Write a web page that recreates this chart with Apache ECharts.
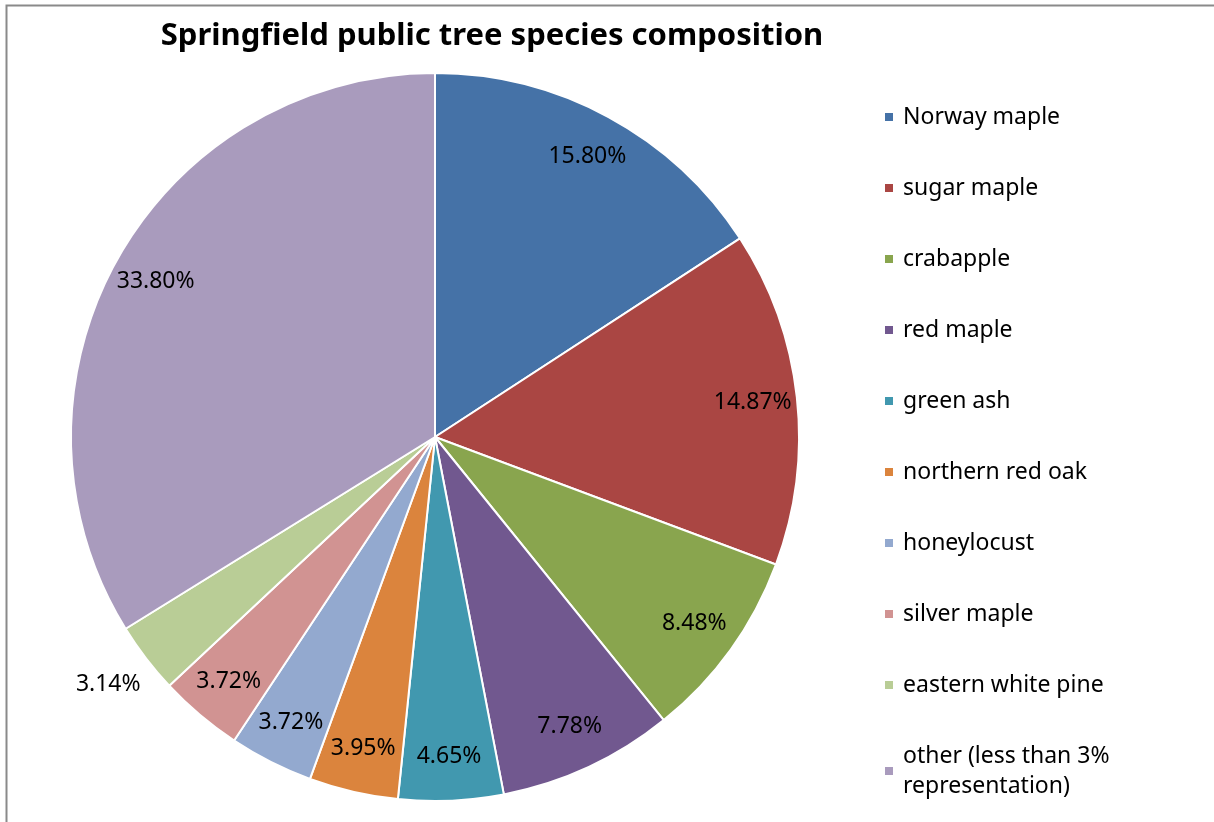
<!DOCTYPE html>
<html>
<head>
<meta charset="utf-8">
<script src="https://cdn.jsdelivr.net/npm/echarts@6/dist/echarts.min.js"></script>
<style>
  html, body { margin: 0; padding: 0; background: #fff; }
  #chart { width: 1214px; height: 822px; }
</style>
</head>
<body>
<div id="chart"></div>
<script>
// species and their share of the public tree inventory (%)
const species = [
  "Norway maple", "sugar maple", "crabapple", "red maple", "green ash",
  "northern red oak", "honeylocust", "silver maple", "eastern white pine",
  "other (less than 3% representation)"
];
const shares = [15.80, 14.87, 8.48, 7.78, 4.65, 3.95, 3.72, 3.72, 3.14, 33.80];
const colors = [
  "#4572A7", "#AA4643", "#89A54E", "#71588F", "#4198AF",
  "#DB843D", "#93A9CF", "#D19392", "#B9CD96", "#A99BBD"
];

const font = "'Noto Sans', sans-serif";
const cx = 435, cy = 437, R = 364;

const pieData = species.map((name, i) => ({
  name: name,
  value: shares[i],
  itemStyle: { color: colors[i] }
}));

// transparent ring on top, only used to place labels near the outer edge
const labelData = species.map((name, i) => {
  const d = { name: name, value: shares[i] };
  if (name === "eastern white pine") {
    d.label = { position: "outside" };
    d.labelLine = { show: false, length: 3, length2: 0 };
  }
  return d;
});

const chart = echarts.init(document.getElementById("chart"));
chart.setOption({
  animation: false,
  title: {
    text: "Springfield public tree species composition",
    left: 487,
    top: 16,
    textAlign: "center",
    textStyle: { fontFamily: font, fontSize: 31, fontWeight: "bold", color: "#000" }
  },
  legend: {
    orient: "vertical",
    left: 883,
    top: 102,
    height: 715,
    padding: 0,
    itemWidth: 10,
    itemHeight: 10,
    itemGap: 41,
    icon: "rect",
    data: species,
    formatter: name => name.replace("3% ", "3%\n"),
    textStyle: { fontFamily: font, fontSize: 23, color: "#000", lineHeight: 30, padding: [0, 0, 0, 4] }
  },
  graphic: [{
    type: "rect",
    shape: { x: 6.5, y: 5.5, width: 1400, height: 1000 },
    style: { fill: null, stroke: "#8a8a8a", lineWidth: 2 },
    z: -1
  }],
  series: [
    {
      type: "pie",
      center: [cx, cy],
      radius: [0, R],
      startAngle: 90,
      clockwise: true,
      label: { show: false },
      labelLine: { show: false },
      itemStyle: { borderColor: "#fff", borderWidth: 2 },
      emphasis: { disabled: true },
      data: pieData
    },
    {
      type: "pie",
      center: [cx, cy],
      radius: [R * 0.74, R],
      startAngle: 90,
      clockwise: true,
      silent: true,
      itemStyle: { color: "rgba(0,0,0,0)" },
      label: {
        show: true,
        position: "inside",
        formatter: p => p.value.toFixed(2) + "%",
        fontFamily: font,
        fontSize: 23,
        color: "#000"
      },
      labelLine: { show: false },
      labelLayout: p => (p.dataIndex === 8 ? { dx: 2, dy: 24 } : {}),
      emphasis: { disabled: true },
      data: labelData
    }
  ]
});
</script>
</body>
</html>
